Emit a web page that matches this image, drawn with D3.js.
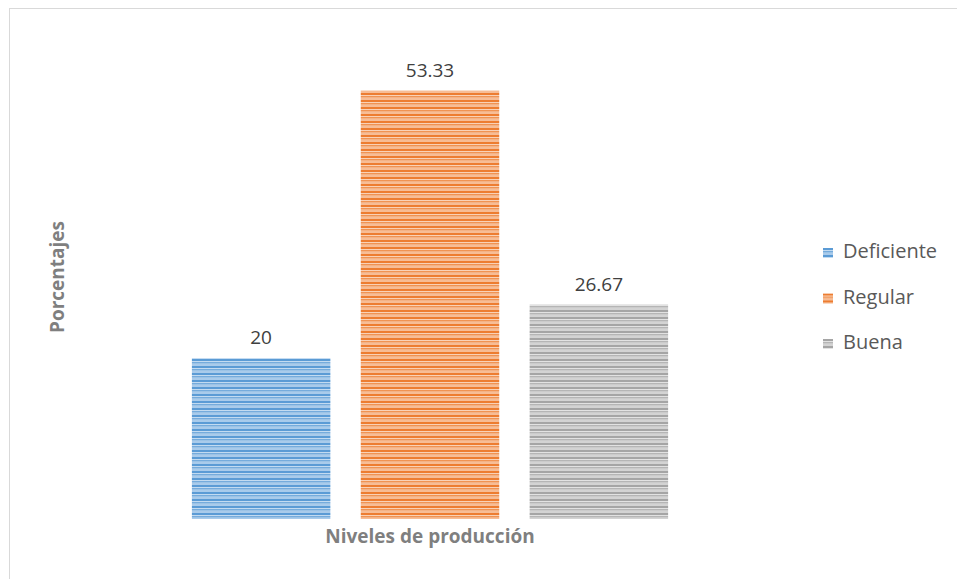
<!DOCTYPE html>
<html>
<head>
<meta charset="utf-8">
<script src="https://cdn.jsdelivr.net/npm/d3@7"></script>
<style>
    body { margin: 0; background: #fff; }
    text { font-family: 'Open Sans', sans-serif; }
</style>
</head>
<body>
<div id="chart"></div>
<script>
var sWidth = 957;
var sHeight = 579;

var categories = ['Deficiente', 'Regular', 'Buena'];
var values = [20, 53.33, 26.67];
var valueLabels = ['20', '53.33', '26.67'];
var colors = ['#5b9bd5', '#ed7d31', '#a5a5a5'];
var lightColors = ['#c3dbf1', '#f9d2b7', '#e2e2e2'];

var marg = { top: 37, bottom: 60, left: 175, right: 272 };
var width = sWidth - marg.left - marg.right;
var height = sHeight - marg.top - marg.bottom;

var svg = d3.select('#chart')
    .append('svg')
    .attr('width', sWidth)
    .attr('height', sHeight);

// outer chart border (only left/top visible in frame)
svg.append('rect')
    .attr('x', 9.5)
    .attr('y', 8.5)
    .attr('width', sWidth + 20)
    .attr('height', sHeight + 20)
    .attr('fill', 'none')
    .attr('stroke', '#d9d9d9');

// striped fills
var defs = svg.append('defs');
colors.forEach(function(c, i) {
    var p = defs.append('pattern')
        .attr('id', 'stripe' + i)
        .attr('patternUnits', 'userSpaceOnUse')
        .attr('width', 8)
        .attr('height', 7);
    p.append('rect').attr('width', 8).attr('height', 7).attr('fill', lightColors[i]);
    p.append('rect').attr('y', 0).attr('width', 8).attr('height', 2).attr('fill', c);
    p.append('rect').attr('y', 3).attr('width', 8).attr('height', 1.5).attr('fill', c).attr('opacity', 0.75);
    p.append('rect').attr('y', 5.5).attr('width', 8).attr('height', 1).attr('fill', c).attr('opacity', 0.5);
});

var g = svg.append('g')
    .attr('transform', `translate(${marg.left}, ${marg.top})`);

var x = d3.scaleBand()
    .domain(categories)
    .range([0, width])
    .paddingInner(0.18)
    .paddingOuter(0.1);

var y = d3.scaleLinear()
    .domain([0, 60])
    .range([height, 0]);

g.selectAll('rect.bar')
    .data(values)
    .enter()
    .append('rect')
    .classed('bar', true)
    .attr('x', (d, i) => x(categories[i]))
    .attr('y', d => y(d))
    .attr('width', x.bandwidth())
    .attr('height', d => height - y(d))
    .attr('fill', (d, i) => `url(#stripe${i})`);

g.selectAll('text.val')
    .data(values)
    .enter()
    .append('text')
    .classed('val', true)
    .attr('x', (d, i) => x(categories[i]) + x.bandwidth() / 2)
    .attr('y', d => y(d) - 14)
    .attr('text-anchor', 'middle')
    .style('font-size', '19px')
    .style('fill', '#404040')
    .text((d, i) => valueLabels[i]);

// axis titles
svg.append('text')
    .attr('x', marg.left + width / 2)
    .attr('y', 543)
    .attr('text-anchor', 'middle')
    .style('font-size', '19px')
    .style('font-weight', 'bold')
    .style('fill', '#7f7f7f')
    .text('Niveles de producción');

svg.append('text')
    .attr('transform', 'translate(64, 277) rotate(-90)')
    .attr('text-anchor', 'middle')
    .style('font-size', '19px')
    .style('font-weight', 'bold')
    .style('fill', '#7f7f7f')
    .text('Porcentajes');

// legend
var legend = svg.append('g')
    .attr('transform', 'translate(823, 248)');

var items = legend.selectAll('g')
    .data(categories)
    .enter()
    .append('g')
    .attr('transform', (d, i) => `translate(0, ${i * 45.5})`);

items.append('rect')
    .attr('width', 10)
    .attr('height', 10)
    .attr('fill', (d, i) => `url(#stripe${i})`);

items.append('text')
    .attr('x', 20)
    .attr('y', 10)
    .style('font-size', '20px')
    .style('fill', '#595959')
    .text(d => d);
</script>
</body>
</html>
